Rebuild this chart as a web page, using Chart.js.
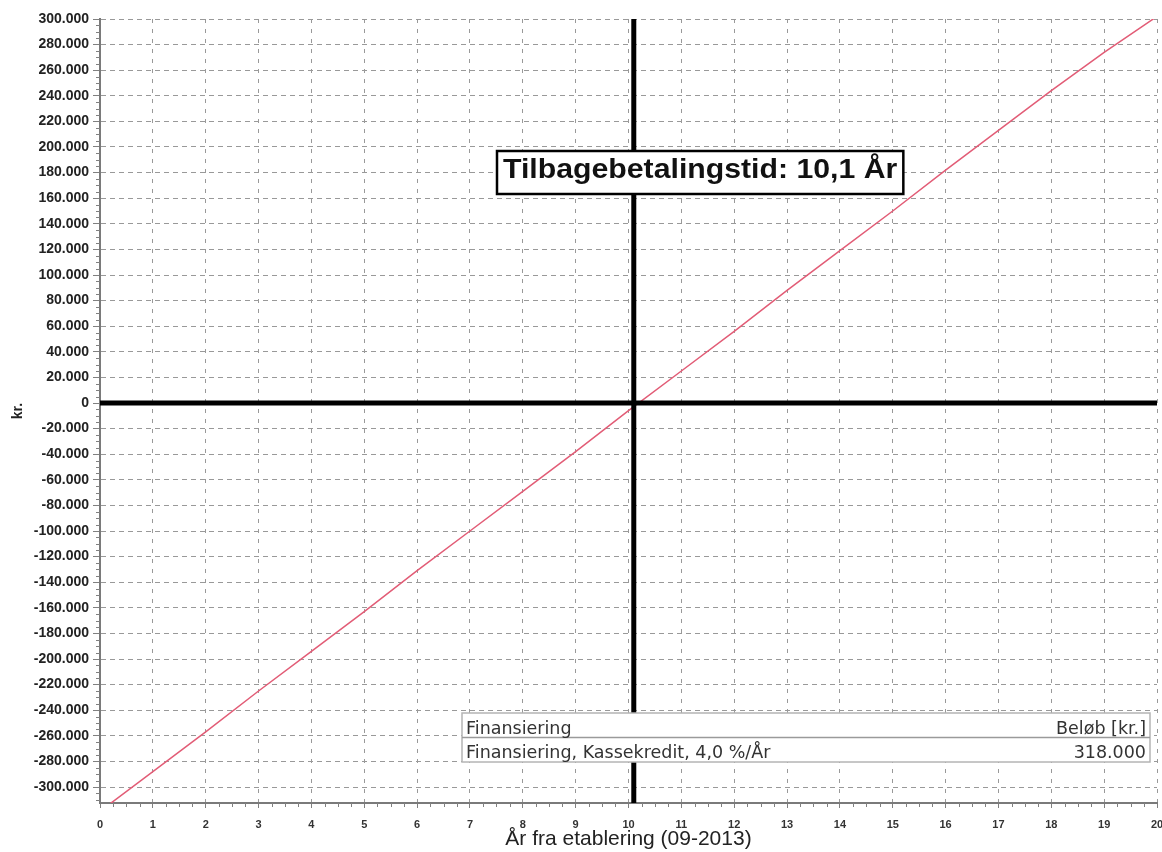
<!DOCTYPE html>
<html>
<head>
<meta charset="utf-8">
<title>Tilbagebetalingstid</title>
<script src="https://cdn.jsdelivr.net/npm/chart.js@4.4.0/dist/chart.umd.min.js"></script>
<style>
  html, body { margin: 0; padding: 0; background: #ffffff; overflow: hidden; }
  #wrap { position: relative; width: 1162px; height: 852px; }
</style>
</head>
<body>
<div id="wrap"><canvas id="chart" width="1162" height="852"></canvas></div>
<script>
// Years since establishment (09-2013)
const years = [0, 1, 2, 3, 4, 5, 6, 7, 8, 9, 10, 11, 12, 13, 14, 15, 16, 17, 18, 19, 20];
// Accumulated cash position, kr.
const cumulative = [-319000, -288000, -257000, -225000, -194000, -163000, -131000, -100000, -69000, -38000,
                    -6000, 25000, 56000, 88000, 119000, 150000, 182000, 213000, 244000, 274000, 302000];
// Payback time in years
const paybackYears = 10.1;

const xTicks = [0, 1, 2, 3, 4, 5, 6, 7, 8, 9, 10, 11, 12, 13, 14, 15, 16, 17, 18, 19, 20];
const yTicks = [-300000, -280000, -260000, -240000, -220000, -200000, -180000, -160000, -140000, -120000,
                -100000, -80000, -60000, -40000, -20000, 0, 20000, 40000, 60000, 80000, 100000,
                120000, 140000, 160000, 180000, 200000, 220000, 240000, 260000, 280000, 300000];
const yMin = -312500;
const yMax = 300000;

const paybackLabel = 'Tilbagebetalingstid: 10,1 År';
const xTitle = 'År fra etablering (09-2013)';
const yTitle = 'kr.';
const tableHeader = ['Finansiering', 'Beløb [kr.]'];
const tableRows = [['Finansiering, Kassekredit, 4,0 %/År', '318.000']];

// Danish thousands separator: 300.000, -20.000
function formatKr(v) {
  const sign = v < 0 ? '-' : '';
  const s = String(Math.abs(Math.round(v)));
  return sign + s.replace(/\B(?=(\d{3})+(?!\d))/g, '.');
}

// Minor axis ticks, payback label and financing table
const overlays = {
  id: 'overlays',
  afterDraw(chart) {
    const { ctx, chartArea: a, scales: { x, y } } = chart;
    ctx.save();

    // minor ticks on the y axis (every 5.000 kr.)
    ctx.strokeStyle = '#808080';
    ctx.lineWidth = 1;
    ctx.beginPath();
    for (let v = -310000; v <= yMax; v += 5000) {
      if (v % 20000 === 0) continue;
      const py = Math.round(y.getPixelForValue(v)) + 0.5;
      ctx.moveTo(a.left - 4, py);
      ctx.lineTo(a.left, py);
    }
    // minor ticks on the x axis (quarter years)
    for (let v = 0.25; v < 20; v += 0.25) {
      if (Math.abs(v - Math.round(v)) < 1e-9) continue;
      const px = Math.round(x.getPixelForValue(v)) + 0.5;
      ctx.moveTo(px, a.bottom);
      ctx.lineTo(px, a.bottom + 4);
    }
    ctx.stroke();

    // payback label box
    ctx.font = 'bold 27px "Liberation Sans", Arial, sans-serif';
    const stretch = 1.12;
    const tw = ctx.measureText(paybackLabel).width * stretch;
    const bx = a.left + 397, by = 151, bw = tw + 12, bh = 43;
    ctx.fillStyle = '#ffffff';
    ctx.fillRect(bx, by, bw, bh);
    ctx.strokeStyle = '#000000';
    ctx.lineWidth = 2.5;
    ctx.strokeRect(bx, by, bw, bh);
    ctx.save();
    ctx.translate(bx + 6, by + 26.5);
    ctx.scale(stretch, 1);
    ctx.fillStyle = '#111111';
    ctx.textBaseline = 'alphabetic';
    ctx.textAlign = 'left';
    ctx.fillText(paybackLabel, 0, 0);
    ctx.restore();

    // financing table
    const tx = 462, ty = 713, tRight = a.right - 7, rowH = 24.5;
    const tH = rowH * (1 + tableRows.length);
    ctx.fillStyle = '#ffffff';
    ctx.fillRect(tx, ty, tRight - tx, tH);
    ctx.strokeStyle = '#b4b4b4';
    ctx.lineWidth = 1.5;
    ctx.strokeRect(tx, ty, tRight - tx, tH);
    ctx.strokeStyle = '#9a9a9a';
    ctx.lineWidth = 1.5;
    ctx.beginPath();
    ctx.moveTo(tx, ty + rowH);
    ctx.lineTo(tRight, ty + rowH);
    ctx.stroke();

    ctx.font = '17.5px "DejaVu Sans", Verdana, sans-serif';
    ctx.fillStyle = '#333333';
    ctx.textBaseline = 'alphabetic';
    const rows = [tableHeader].concat(tableRows);
    rows.forEach((r, i) => {
      const base = ty + 20.5 + i * rowH;
      ctx.textAlign = 'left';
      ctx.fillText(r[0], tx + 4, base);
      ctx.textAlign = 'right';
      ctx.fillText(r[1], tRight - 4, base);
    });

    ctx.restore();
  }
};

const ctx = document.getElementById('chart').getContext('2d');
new Chart(ctx, {
  type: 'scatter',
  data: {
    datasets: [
      {
        label: 'Tilbagebetalingstid',
        data: [{ x: paybackYears, y: yMin }, { x: paybackYears, y: yMax }],
        showLine: true,
        borderColor: '#000000',
        borderWidth: 5,
        pointRadius: 0,
        pointHoverRadius: 0
      },
      {
        label: '0',
        data: [{ x: years[0], y: 0 }, { x: years[years.length - 1], y: 0 }],
        showLine: true,
        borderColor: '#000000',
        borderWidth: 5,
        pointRadius: 0,
        pointHoverRadius: 0
      },
      {
        label: 'Finansiering, Kassekredit, 4,0 %/År',
        data: years.map((yr, i) => ({ x: yr, y: cumulative[i] })),
        showLine: true,
        borderColor: 'rgb(226, 92, 118)',
        borderWidth: 1.5,
        pointRadius: 0,
        pointHoverRadius: 0,
        tension: 0
      }
    ]
  },
  options: {
    responsive: false,
    animation: false,
    devicePixelRatio: 1,
    layout: { padding: { top: 19, right: 5, left: 0, bottom: 0 } },
    plugins: {
      legend: { display: false },
      tooltip: { enabled: false },
      title: { display: false }
    },
    scales: {
      x: {
        type: 'linear',
        min: 0,
        max: 20,
        afterBuildTicks: s => { s.ticks = xTicks.map(v => ({ value: v })); },
        afterFit: s => { s.height = 49; s.paddingLeft = 0; s.paddingRight = 0; },
        ticks: {
          autoSkip: false,
          maxRotation: 0,
          padding: 10,
          color: '#333333',
          font: { family: '"Liberation Sans", Arial, sans-serif', size: 11, weight: 'bold' }
        },
        grid: {
          color: '#999999',
          lineWidth: 1,
          tickLength: 5,
          tickColor: '#808080',
          drawTicks: true
        },
        border: { display: true, color: '#7a7a7a', width: 2, dash: [4, 6] },
        title: {
          display: true,
          text: xTitle,
          color: '#222222',
          padding: { top: 0, bottom: 0 },
          font: { family: '"Liberation Sans", Arial, sans-serif', size: 21 }
        }
      },
      y: {
        type: 'linear',
        min: yMin,
        max: yMax,
        afterBuildTicks: s => { s.ticks = yTicks.map(v => ({ value: v })); },
        afterFit: s => { s.width = 100; s.paddingTop = 0; s.paddingBottom = 0; },
        ticks: {
          padding: 4,
          color: '#222222',
          callback: v => formatKr(v),
          font: { family: '"Liberation Sans", Arial, sans-serif', size: 14, weight: 'bold' }
        },
        grid: {
          color: '#999999',
          lineWidth: 1,
          tickLength: 7,
          tickColor: '#808080',
          drawTicks: true
        },
        border: { display: true, color: '#7a7a7a', width: 2, dash: [5, 4] },
        title: {
          display: true,
          text: yTitle,
          color: '#222222',
          padding: { top: 10, bottom: 0 },
          font: { family: '"Liberation Sans", Arial, sans-serif', size: 14, weight: 'bold' }
        }
      }
    }
  },
  plugins: [overlays]
});
</script>
</body>
</html>
